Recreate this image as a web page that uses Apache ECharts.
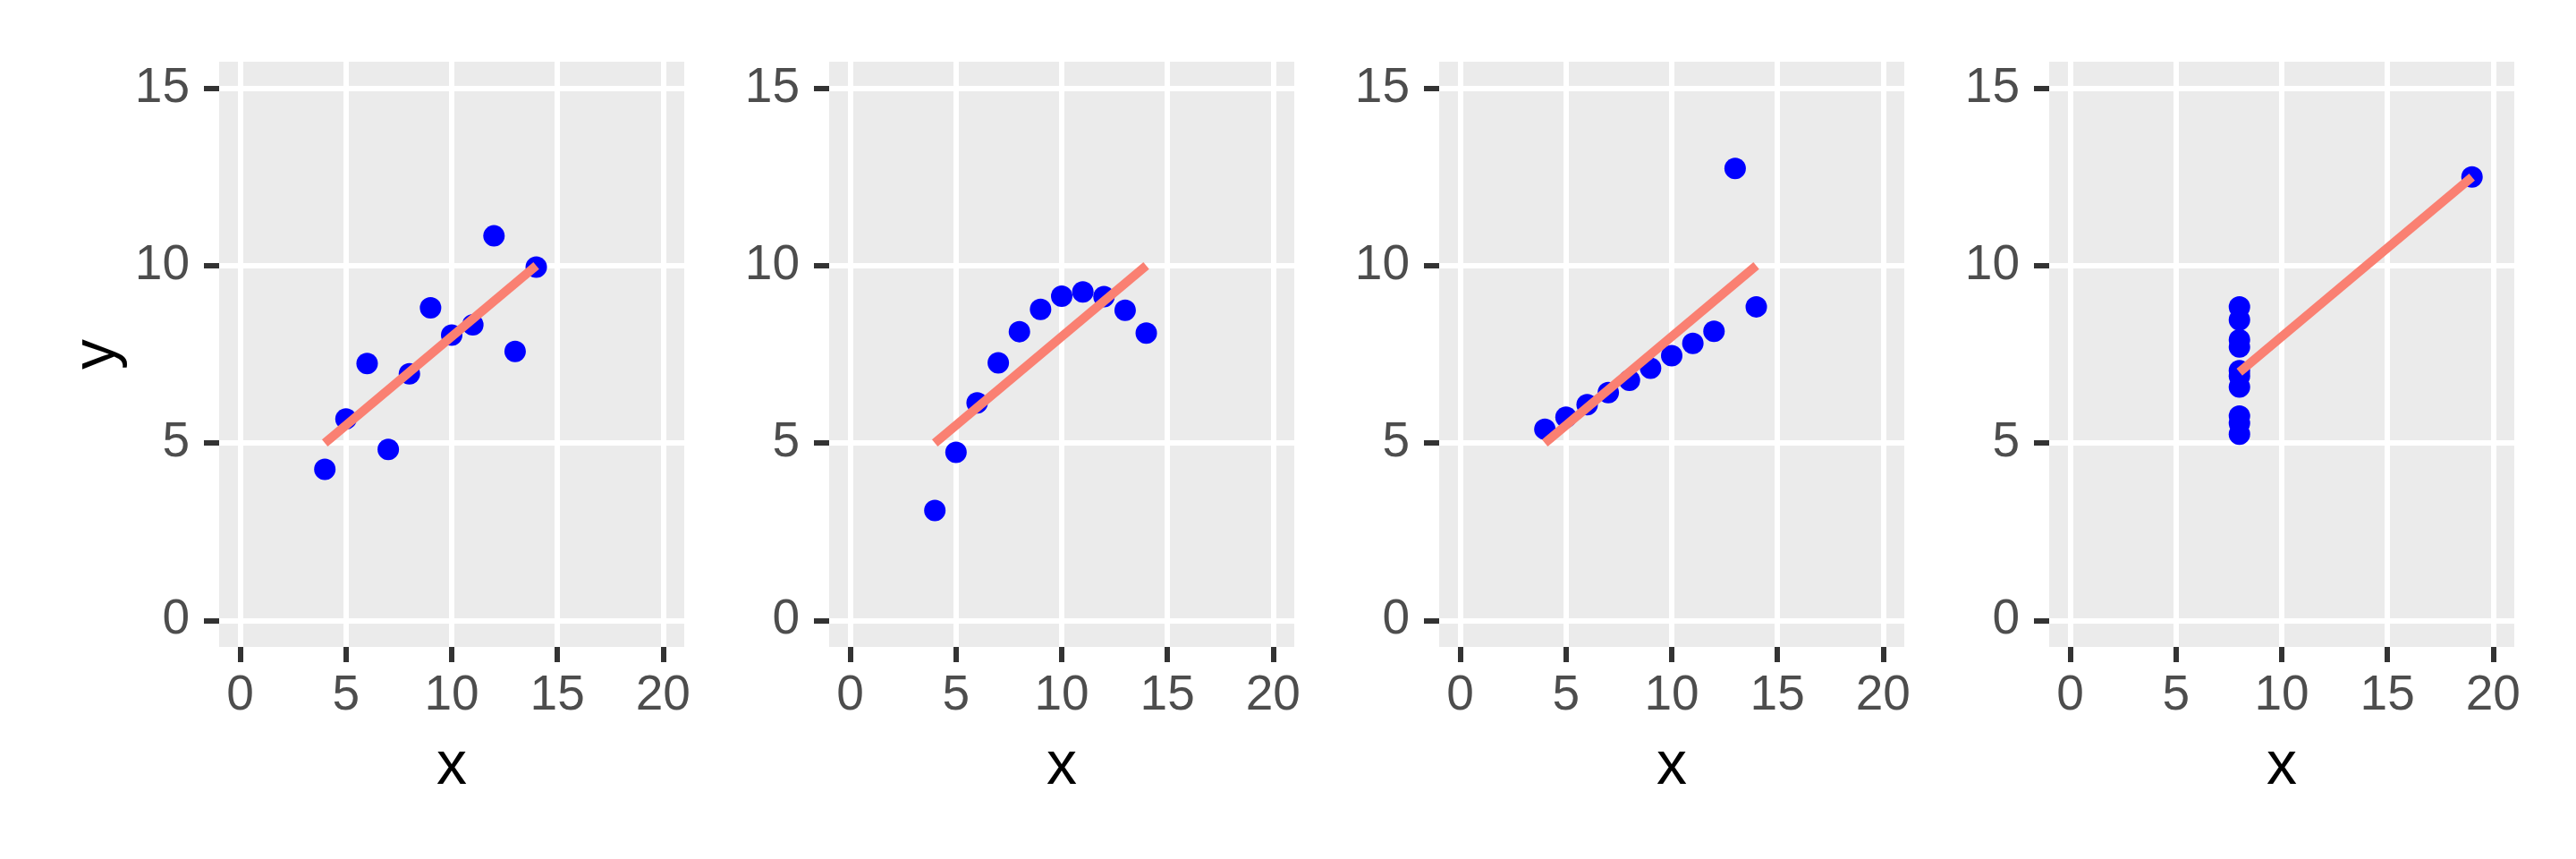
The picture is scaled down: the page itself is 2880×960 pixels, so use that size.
<!DOCTYPE html>
<html>
<head>
<meta charset="utf-8">
<title>Anscombe</title>
<script src="https://cdn.jsdelivr.net/npm/echarts@6/dist/echarts.min.js"></script>
<style>
    html, body { margin: 0; padding: 0; background: #fff; }
    #main { width: 2880px; height: 960px; }
</style>
</head>
<body>
<div id="main"></div>
<script>
// data (Anscombe's quartet)
var x123 = [10, 8, 13, 9, 11, 14, 6, 4, 12, 7, 5];
var y1 = [8.04, 6.95, 7.58, 8.81, 8.33, 9.96, 7.24, 4.26, 10.84, 4.82, 5.68];
var y2 = [9.14, 8.14, 8.74, 8.77, 9.26, 8.10, 6.13, 3.10, 9.13, 7.26, 4.74];
var y3 = [7.46, 6.77, 12.74, 7.11, 7.81, 8.84, 6.08, 5.39, 8.15, 6.42, 5.73];
var x4 = [8, 8, 8, 8, 8, 8, 8, 19, 8, 8, 8];
var y4 = [6.58, 5.76, 7.71, 8.84, 8.47, 7.04, 5.25, 12.50, 5.56, 7.91, 6.89];

// fitted line end points
var fitX = [[4, 14], [4, 14], [4, 14], [8, 19]];
var fitY = [[5.0, 10.0], [5.0, 10.0], [5.0, 10.0], [7.0, 12.5]];

var xTicks = [0, 5, 10, 15, 20];
var yTicks = [0, 5, 10, 15];

var panelsX = [x123, x123, x123, x4];
var panelsY = [y1, y2, y3, y4];

var chart = echarts.init(document.getElementById('main'));

var font = "'Liberation Sans', Arial, sans-serif";
var panelLeft = 245, panelStep = 682, panelTop = 69, panelW = 520, panelH = 654;

var grids = [], xAxes = [], yAxes = [], series = [];

function zip(xs, ys) {
    return xs.map(function (v, i) { return [v, ys[i]]; });
}

// ticks, labels and white grid lines only at the given values
function axisParts(ticks, margin) {
    return {
        axisLine: { show: false, onZero: false },
        axisTick: {
            show: true, length: 17, customValues: ticks,
            lineStyle: { color: '#333333', width: 6 }
        },
        axisLabel: {
            show: true, customValues: ticks, margin: margin,
            fontFamily: font, fontSize: 55, color: '#4D4D4D'
        },
        splitLine: {
            show: true, customValues: ticks,
            lineStyle: { color: '#FFFFFF', width: 6, type: 'solid' }
        }
    };
}

for (var i = 0; i < 4; i++) {
    grids.push({
        left: panelLeft + panelStep * i, top: panelTop, width: panelW, height: panelH,
        show: true, backgroundColor: '#EBEBEB', borderWidth: 0
    });

    xAxes.push(Object.assign({
        gridIndex: i, type: 'value', min: -1, max: 21, position: 'bottom',
        name: 'x', nameLocation: 'middle', nameGap: 100,
        nameTextStyle: { fontFamily: font, fontSize: 68, color: '#000000' }
    }, axisParts(xTicks, 27)));

    yAxes.push(Object.assign({
        gridIndex: i, type: 'value', min: -0.75, max: 15.75, position: 'left',
        name: i === 0 ? 'y' : '', nameLocation: 'middle', nameGap: 102,
        nameTextStyle: { fontFamily: font, fontSize: 68, color: '#000000' }
    }, axisParts(yTicks, 33)));

    series.push({
        type: 'scatter',
        xAxisIndex: i, yAxisIndex: i,
        data: zip(panelsX[i], panelsY[i]),
        symbol: 'circle', symbolSize: 24,
        itemStyle: { color: '#0000FF', opacity: 1 },
        z: 3, silent: true
    });
    series.push({
        type: 'line',
        xAxisIndex: i, yAxisIndex: i,
        data: zip(fitX[i], fitY[i]),
        showSymbol: false, symbol: 'none',
        lineStyle: { color: '#FA8072', width: 10, cap: 'butt' },
        z: 4, silent: true
    });
}

chart.setOption({
    animation: false,
    grid: grids,
    xAxis: xAxes,
    yAxis: yAxes,
    series: series
});
</script>
</body>
</html>
